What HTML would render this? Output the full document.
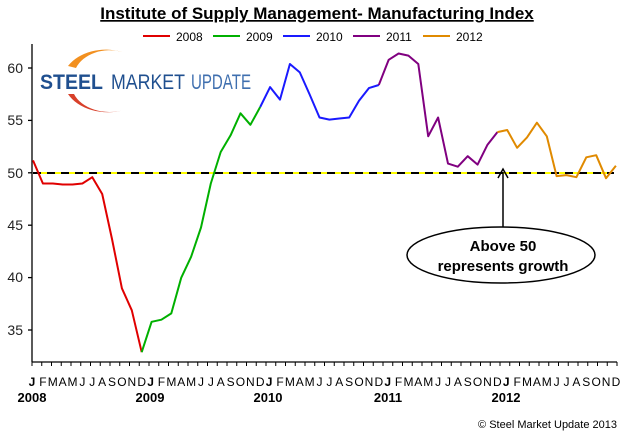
<!DOCTYPE html>
<html><head><meta charset="utf-8"><style>
html,body{margin:0;padding:0;background:#fff;}
svg{display:block;font-family:"Liberation Sans",sans-serif;}
</style></head><body>
<svg id="c" width="622" height="431" viewBox="0 0 622 431" xmlns="http://www.w3.org/2000/svg">
<text x="317" y="19" text-anchor="middle" font-size="17" font-weight="bold" fill="#000" text-decoration="underline">Institute of Supply Management- Manufacturing Index</text>
<line x1="143" y1="36" x2="170" y2="36" stroke="#e00000" stroke-width="2"/>
<text x="176" y="41" font-size="12">2008</text>
<line x1="213" y1="36" x2="240" y2="36" stroke="#00b000" stroke-width="2"/>
<text x="246" y="41" font-size="12">2009</text>
<line x1="283" y1="36" x2="310" y2="36" stroke="#1a1aff" stroke-width="2"/>
<text x="316" y="41" font-size="12">2010</text>
<line x1="353" y1="36" x2="380" y2="36" stroke="#800080" stroke-width="2"/>
<text x="386" y="41" font-size="12">2011</text>
<line x1="423" y1="36" x2="450" y2="36" stroke="#e08a00" stroke-width="2"/>
<text x="456" y="41" font-size="12">2012</text>
<!-- logo -->
<path d="M68 66 A44 34 0 0 1 122 52 A36 28 0 0 0 76 68 Z" fill="#f29020"/>
<path d="M68 94 A44 32 0 0 0 124 110 A38 27 0 0 1 74 94 Z" fill="#d8402a"/>
<text x="40" y="89" font-size="21" font-weight="bold" fill="#1f4f8f" textLength="63" lengthAdjust="spacingAndGlyphs">STEEL</text>
<text x="111" y="89" font-size="21" fill="#1f4f8f" textLength="74" lengthAdjust="spacingAndGlyphs">MARKET</text>
<text x="191" y="89" font-size="21" fill="#3f6faf" textLength="60" lengthAdjust="spacingAndGlyphs">UPDATE</text>
<!-- axes -->
<g stroke="#000" stroke-width="1.3" fill="none">
<line x1="32" y1="44" x2="32" y2="362"/>
<line x1="32" y1="362" x2="617" y2="362"/>
<line x1="28" y1="68" x2="32" y2="68"/><line x1="28" y1="120.4" x2="32" y2="120.4"/>
<line x1="28" y1="172.8" x2="32" y2="172.8"/><line x1="28" y1="225.2" x2="32" y2="225.2"/>
<line x1="28" y1="277.6" x2="32" y2="277.6"/><line x1="28" y1="330" x2="32" y2="330"/>
</g>
<g id="xt" stroke="#000" stroke-width="1"></g>
<g font-size="14" fill="#222" text-anchor="end">
<text x="23" y="73">60</text><text x="23" y="125">55</text><text x="23" y="178">50</text>
<text x="23" y="230">45</text><text x="23" y="282">40</text><text x="23" y="335">35</text>
</g>
<line x1="33" y1="173" x2="614" y2="173" stroke="#ffff00" stroke-width="2"/>
<line x1="33" y1="173" x2="614" y2="173" stroke="#000" stroke-width="2" stroke-dasharray="8 6"/>
<g id="ser" fill="none" stroke-width="2" stroke-linejoin="round"></g>
<g id="ml" font-size="12" fill="#000"></g>
<g font-size="13" font-weight="bold" fill="#000" text-anchor="middle">
<text x="32" y="402">2008</text><text x="150" y="402">2009</text><text x="268" y="402">2010</text>
<text x="388" y="402">2011</text><text x="506" y="402">2012</text>
</g>
<text x="617" y="428" font-size="11" text-anchor="end" fill="#000">© Steel Market Update 2013</text>
<line x1="503" y1="227" x2="503" y2="172" stroke="#000" stroke-width="1.5"/>
<path d="M498 178 L503 169 L508 178" fill="none" stroke="#000" stroke-width="1.5"/>
<ellipse cx="501" cy="255" rx="94" ry="28" fill="#fff" stroke="#000" stroke-width="1.5"/>
<text x="503" y="251" font-size="15" font-weight="bold" text-anchor="middle">Above 50</text>
<text x="503" y="271" font-size="15" font-weight="bold" text-anchor="middle">represents growth</text>
</svg>
<script>
var ns="http://www.w3.org/2000/svg";
var d=[51.2,49,49,48.9,48.9,49.0,49.6,48.0,43.7,39.0,36.9,32.9,
35.8,36.0,36.6,40.0,42.0,44.8,49.0,52.0,53.6,55.7,54.6,56.3,
58.2,57.0,60.4,59.6,57.5,55.3,55.1,55.2,55.3,56.9,58.1,58.4,
60.8,61.4,61.2,60.4,53.5,55.3,50.9,50.6,51.6,50.8,52.7,53.9,
54.1,52.4,53.4,54.8,53.5,49.7,49.8,49.6,51.5,51.7,49.5,50.7];
function X(i){return 33+9.88*i;}
function Y(v){return 173-(v-50)*10.48;}
var cols=["#e00000","#00b000","#1a1aff","#800080","#e08a00"];
var g=document.getElementById("ser");
for(var y=0;y<5;y++){var s=y==0?0:y*12-1,e=y*12+11;var pts=[];
for(var i=s;i<=e;i++)pts.push(X(i).toFixed(1)+","+Y(d[i]).toFixed(1));
var p=document.createElementNS(ns,"polyline");p.setAttribute("points",pts.join(" "));p.setAttribute("stroke",cols[y]);g.appendChild(p);}
var xt=document.getElementById("xt");
for(var i=0;i<=60;i++){var l=document.createElementNS(ns,"line");var x=32+9.75*i;l.setAttribute("x1",x);l.setAttribute("x2",x);l.setAttribute("y1",362);l.setAttribute("y2",366);xt.appendChild(l);}
var m="JFMAMJJASOND";var ml=document.getElementById("ml");
for(var i=0;i<60;i++){var t=document.createElementNS(ns,"text");t.setAttribute("x",X(i)+(i%12==0?-1:0));t.setAttribute("y",386);t.setAttribute("text-anchor","middle");if(i%12==0)t.setAttribute("font-weight","bold");t.textContent=m[i%12];ml.appendChild(t);}
</script>
</body></html>
